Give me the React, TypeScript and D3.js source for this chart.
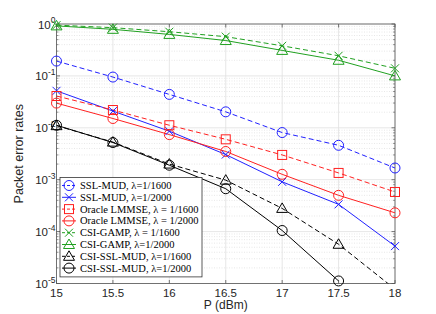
import React from 'react';
import * as d3 from 'd3';

const powers = [15, 15.5, 16, 16.5, 17, 17.5, 18];
const sslMud1600 = [0.193, 0.095, 0.044, 0.0203, 0.0081, 0.0046, 0.00168];
const sslMud2000 = [0.0516, 0.021, 0.0086, 0.00305, 0.00091, 0.000335, 0.0000525];
const lmmse1600 = [0.041, 0.022, 0.0112, 0.006, 0.003, 0.00135, 0.00058];
const lmmse2000 = [0.0299, 0.0151, 0.0074, 0.0035, 0.00127, 0.0005, 0.00023];
const gamp1600 = [0.95, 0.85, 0.71, 0.57, 0.38, 0.244, 0.14];
const gamp2000 = [0.92, 0.79, 0.63, 0.48, 0.31, 0.2, 0.1];
const csiSsl1600 = [0.011, 0.0053, 0.002, 0.00098, 0.00028, 0.000057, 0.0000078];
const csiSsl2000 = [0.0112, 0.0052, 0.0019, 0.00067, 0.000105, 0.0000112, null];

const xTicks = [15, 15.5, 16, 16.5, 17, 17.5, 18];
const yExponents = [0, -1, -2, -3, -4, -5];

const BLUE = '#2020ff';
const RED = '#ff2020';
const GREEN = '#20a020';
const BLACK = '#000000';

const series = [
  { label: 'SSL-MUD, λ=1/1600', values: sslMud1600, color: BLUE, dash: '5,3', marker: 'circle' },
  { label: 'SSL-MUD, λ=1/2000', values: sslMud2000, color: BLUE, dash: null, marker: 'x' },
  { label: 'Oracle LMMSE, λ = 1/1600', values: lmmse1600, color: RED, dash: '5,3', marker: 'square' },
  { label: 'Oracle LMMSE, λ = 1/2000', values: lmmse2000, color: RED, dash: null, marker: 'circle' },
  { label: 'CSI-GAMP, λ = 1/1600', values: gamp1600, color: GREEN, dash: '5,3', marker: 'x' },
  { label: 'CSI-GAMP, λ=1/2000', values: gamp2000, color: GREEN, dash: null, marker: 'triangle' },
  { label: 'CSI-SSL-MUD, λ=1/1600', values: csiSsl1600, color: BLACK, dash: '5,3', marker: 'triangle' },
  { label: 'CSI-SSL-MUD, λ=1/2000', values: csiSsl2000, color: BLACK, dash: null, marker: 'circle' },
];

const left = 56.5;
const right = 395;
const top = 24;
const bottom = 283.5;
const sans = 'Liberation Sans, Arial, Helvetica, sans-serif';

const x = d3.scaleLinear().domain([15, 18]).range([left, right]);
const y = d3.scaleLog().domain([1e-5, 1]).range([bottom, top]);

function Marker({ type, cx, cy, color }: { type: string; cx: number; cy: number; color: string }) {
  const common = { fill: 'none', stroke: color, strokeWidth: 1 };
  if (type === 'circle') return <circle cx={cx} cy={cy} r={5} {...common} />;
  if (type === 'square') return <rect x={cx - 4.5} y={cy - 4.5} width={9} height={9} {...common} />;
  if (type === 'triangle')
    return <path d={`M${cx},${cy - 5.5}L${cx + 5.5},${cy + 4}L${cx - 5.5},${cy + 4}Z`} {...common} />;
  return <path d={`M${cx - 4},${cy - 4}L${cx + 4},${cy + 4}M${cx - 4},${cy + 4}L${cx + 4},${cy - 4}`} {...common} />;
}

export default function App() {
  const line = d3
    .line<[number, number | null]>()
    .defined((d) => d[1] != null)
    .x((d) => x(d[0]))
    .y((d) => y(d[1] as number));

  const minor: number[] = [];
  for (let e = -5; e < 0; e++) for (let k = 2; k <= 9; k++) minor.push(k * Math.pow(10, e));

  const legendX = 60;
  const legendY = 177.5;
  const legendW = 142;
  const rowH = 11.8;

  return (
    <svg width={436} height={314} style={{ position: 'absolute', left: 0, top: 0, background: '#fff' }}>
      <defs>
        <clipPath id="plot">
          <rect x={left} y={top} width={right - left} height={bottom - top} />
        </clipPath>
      </defs>
      <rect x={left} y={top} width={right - left} height={bottom - top} fill="#fff" />
      {/* grid */}
      {minor.map((v) => (
        <line key={'m' + v} x1={left} x2={right} y1={y(v)} y2={y(v)} stroke="#d6d6d6" strokeWidth={0.6} strokeDasharray="1,1.5" />
      ))}
      {yExponents.map((e) => (
        <line key={'g' + e} x1={left} x2={right} y1={y(Math.pow(10, e))} y2={y(Math.pow(10, e))} stroke="#e0e0e0" strokeWidth={0.8} />
      ))}
      {xTicks.map((t) => (
        <line key={'gx' + t} x1={x(t)} x2={x(t)} y1={top} y2={bottom} stroke="#e0e0e0" strokeWidth={0.8} />
      ))}
      {/* axes box and ticks */}
      <rect x={left} y={top} width={right - left} height={bottom - top} fill="none" stroke="#555" strokeWidth={0.8} />
      {xTicks.map((t) => (
        <g key={'tx' + t}>
          <line x1={x(t)} x2={x(t)} y1={bottom} y2={bottom - 3.5} stroke="#555" strokeWidth={0.8} />
          <line x1={x(t)} x2={x(t)} y1={top} y2={top + 3.5} stroke="#555" strokeWidth={0.8} />
          <text x={x(t)} y={297} textAnchor="middle" fontFamily={sans} fontSize={11.5} fill="#262626">
            {t}
          </text>
        </g>
      ))}
      {minor.map((v) => (
        <g key={'mt' + v}>
          <line x1={left} x2={left + 2} y1={y(v)} y2={y(v)} stroke="#555" strokeWidth={0.6} />
          <line x1={right} x2={right - 2} y1={y(v)} y2={y(v)} stroke="#555" strokeWidth={0.6} />
        </g>
      ))}
      {yExponents.map((e) => (
        <g key={'ty' + e}>
          <line x1={left} x2={left + 3.5} y1={y(Math.pow(10, e))} y2={y(Math.pow(10, e))} stroke="#555" strokeWidth={0.8} />
          <line x1={right} x2={right - 3.5} y1={y(Math.pow(10, e))} y2={y(Math.pow(10, e))} stroke="#555" strokeWidth={0.8} />
          <text x={left - 1} y={y(Math.pow(10, e)) + 4.5} textAnchor="end" fontFamily={sans} fontSize={11.5} fill="#262626">
            10
            <tspan dy={-5.5} fontSize={8.5}>
              {e}
            </tspan>
          </text>
        </g>
      ))}
      <text x={(left + right) / 2} y={309} textAnchor="middle" fontFamily={sans} fontSize={12} fill="#262626">
        P (dBm)
      </text>
      <text
        transform={`translate(23,${(top + bottom) / 2}) rotate(-90)`}
        textAnchor="middle"
        fontFamily={sans}
        fontSize={12.5}
        fill="#262626"
      >
        Packet error rates
      </text>
      {/* data */}
      <g clipPath="url(#plot)">
        {series.map((s) => (
          <path
            key={'l' + s.label}
            d={line(powers.map((p, i) => [p, s.values[i]] as [number, number | null])) || ''}
            fill="none"
            stroke={s.color}
            strokeWidth={1}
            strokeDasharray={s.dash || undefined}
          />
        ))}
      </g>
      {series.map((s) =>
        powers.map((p, i) => {
          const v = s.values[i];
          if (v == null || v < 1e-5) return null;
          return <Marker key={s.label + p} type={s.marker} cx={x(p)} cy={y(v)} color={s.color} />;
        })
      )}
      {/* legend */}
      <rect x={legendX} y={legendY} width={legendW} height={rowH * 8 + 5} fill="#fff" stroke="#333" strokeWidth={0.8} />
      {series.map((s, i) => {
        const cy = legendY + 8 + i * rowH;
        return (
          <g key={'lg' + s.label}>
            <line x1={legendX + 2} x2={legendX + 16} y1={cy} y2={cy} stroke={s.color} strokeWidth={1} strokeDasharray={s.dash ? '3,2' : undefined} />
            <Marker type={s.marker} cx={legendX + 9} cy={cy} color={s.color} />
            <text x={legendX + 20} y={cy + 3.5} fontFamily="Liberation Serif, Times New Roman, serif" fontSize={10.5} fill="#000">
              {s.label}
            </text>
          </g>
        );
      })}
    </svg>
  );
}
